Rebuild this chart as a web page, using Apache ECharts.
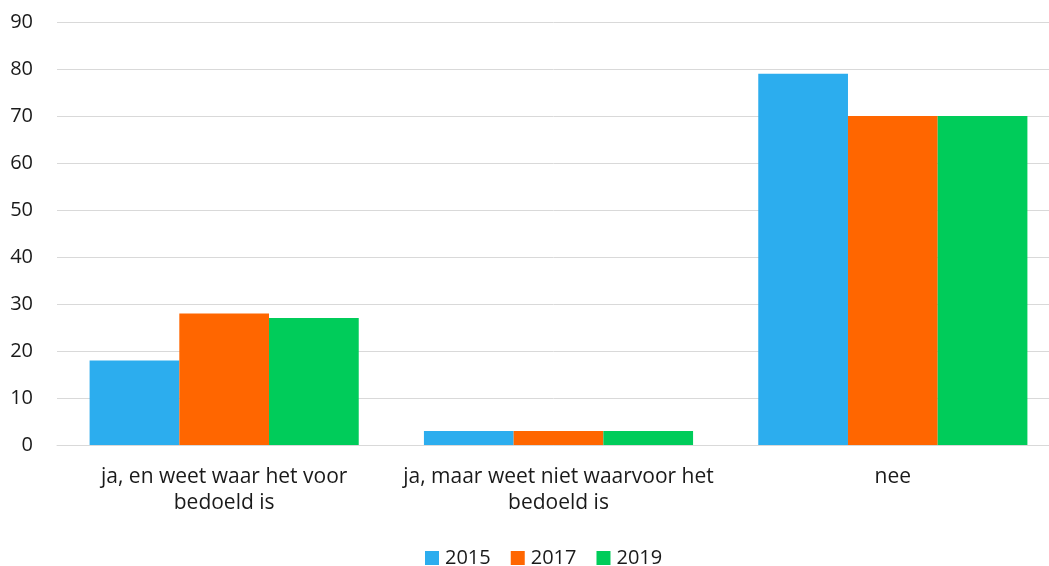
<!DOCTYPE html>
<html><head><meta charset="utf-8">
<script src="https://cdn.jsdelivr.net/npm/echarts@6/dist/echarts.min.js"></script>
<style>html,body{margin:0;padding:0;background:#fff;overflow:hidden}#c{width:1049px;height:566px}</style>
</head><body><div id="c"></div>
<script>
const categories = ['ja, en weet waar het voor\nbedoeld is', 'ja, maar weet niet waarvoor het\nbedoeld is', 'nee'];
const seriesNames = ['2015', '2017', '2019'];
const values2015 = [18, 3, 79];
const values2017 = [28, 3, 70];
const values2019 = [27, 3, 70];
const colors = ['#2CADEE', '#FF6600', '#00CC5A'];
const font = '"Open Sans", sans-serif';
const chart = echarts.init(document.getElementById('c'), null, {renderer: 'canvas'});
const data = [values2015, values2017, values2019];
chart.setOption({
  animation: false,
  color: colors,
  grid: {left: 57, top: 22, bottom: 121, right: -11, containLabel: false, outerBoundsMode: 'none'},
  legend: {
    top: 548, left: 425, padding: 0, itemWidth: 14, itemHeight: 14, itemGap: 20,
    icon: 'rect',
    textStyle: {fontFamily: font, fontSize: 20, color: '#1a1a1a', padding: [0, 0, 0, 1]},
    data: seriesNames
  },
  xAxis: {
    type: 'category', data: categories,
    axisLine: {show: true, lineStyle: {color: '#D9D9D9', width: 1}},
    axisTick: {show: false},
    axisLabel: {fontFamily: font, fontSize: 21, color: '#1a1a1a', margin: 19, lineHeight: 26, interval: 0}
  },
  yAxis: {
    type: 'value', min: 0, max: 90, interval: 10,
    axisLine: {show: false}, axisTick: {show: false},
    splitLine: {lineStyle: {color: '#D9D9D9', width: 1}},
    axisLabel: {fontFamily: font, fontSize: 20, color: '#1a1a1a', margin: 24}
  },
  series: seriesNames.map((n, i) => ({
    name: n, type: 'bar', data: data[i], barGap: '0%', barCategoryGap: '19.5%'
  }))
});
</script></body></html>
